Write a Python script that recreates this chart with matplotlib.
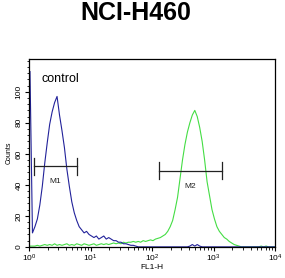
import numpy as np
import matplotlib
matplotlib.use("Agg")
import matplotlib.pyplot as plt
from matplotlib.ticker import MultipleLocator, LogLocator, FixedLocator

# histogram channels, evenly spaced in log10(FL1-H), 0.04 decade apart
log_fl = 0.015 + np.arange(101) * 0.04
fl1 = 10 ** log_fl

control = [113, 9, 13, 18, 27, 39, 54, 67, 79, 87,
           93, 97, 85, 75, 64, 50, 39, 29, 22, 17,
           13, 11, 9, 10, 8, 7, 6, 7, 5, 6,
           7, 5, 6, 5, 4, 4, 3, 3, 2, 2,
           1.5, 1, 1, 0.5, 0, 0, 0, 0, 0, 0,
           0, 0, 0, 0, 0, 0, 0, 0, 0, 0,
           0, 0, 0, 0, 0, 0.5, 1.5, 0.5, 1.5, 0.5,
           0, 0, 0, 0, 0, 0, 0, 0, 0, 0,
           0, 0, 0, 0, 0, 0, 0, 0, 0, 0,
           0, 0, 0, 0, 0, 0, 0, 0, 0, 0, 0]

sample = [0.5, 0.5, 0.5, 1, 0.5, 1, 1.5, 1, 1.5, 1,
          2, 1, 1.5, 1, 1.5, 2, 1, 1.5, 1, 2,
          1.5, 1, 2, 1.5, 1, 1.5, 2, 1, 1.5, 2,
          1.5, 2, 1.5, 2, 2.5, 2, 2.5, 2, 3, 2.5,
          3, 3, 3.5, 3, 3.5, 3, 4, 3.5, 4, 4.5,
          4, 5, 5.5, 6, 7, 8, 10, 13, 17, 24,
          32, 44, 56, 66, 74, 80, 85, 88, 84, 77,
          68, 56, 42, 33, 24, 18, 13, 10, 8, 6,
          5, 3.5, 2.5, 1.5, 1, 0.5, 0, 0, 0, 0,
          0, 0, 0, 0, 0.5, 0, 0.5, 0, 0, 0, 0]

# gates: name, left, right, level
gates = [("M1", 1.2, 6.0, 52), ("M2", 130, 1380, 49)]
count_ticks = [0, 20, 40, 60, 80, 100]

plt.rcParams['font.family'] = ['Liberation Sans', 'DejaVu Sans']
plt.rcParams['mathtext.default'] = 'regular'

fig = plt.figure(figsize=(2.85, 2.78), dpi=100)
ax = fig.add_axes([0.102, 0.112, 0.863, 0.675])

ax.plot(fl1, sample, color='#44dd44', lw=0.8)
ax.plot(fl1, control, color='#22229a', lw=0.8)

for name, lo, hi, lev in gates:
    ax.plot([lo, hi], [lev, lev], color='#222222', lw=0.9)
    ax.plot([lo, lo], [lev - 5.5, lev + 5.5], color='#222222', lw=0.9)
    ax.plot([hi, hi], [lev - 5.5, lev + 5.5], color='#222222', lw=0.9)
    ax.text(np.sqrt(lo * hi), lev - 10, name, fontsize=6,
            ha='center', va='center', color='#222222')

ax.text(1.57, 108, 'control', fontsize=9, ha='left', va='center')

ax.set_xscale('log')
ax.set_xlim(1, 1e4)
ax.set_ylim(0, 121)
ax.yaxis.set_major_locator(FixedLocator(count_ticks))
ax.yaxis.set_minor_locator(MultipleLocator(4))
ax.xaxis.set_major_locator(LogLocator(base=10, numticks=10))
ax.xaxis.set_minor_locator(LogLocator(base=10, subs=np.arange(2, 10), numticks=10))
ax.tick_params(which='major', direction='out', length=3, width=0.8, labelsize=6, pad=1.5)
ax.tick_params(which='minor', direction='out', length=1.8, width=0.6)
for lab in ax.get_yticklabels():
    lab.set_rotation(90)
    lab.set_va('center')
for sp in ax.spines.values():
    sp.set_linewidth(0.9)

ax.set_xlabel('FL1-H', fontsize=6, labelpad=0)
ax.set_ylabel('Counts', fontsize=5, labelpad=2)

fig.text(0.477, 0.952, 'NCI-H460', fontsize=18, fontweight='bold',
         ha='center', va='center')

fig.savefig('out.png', dpi=100)
